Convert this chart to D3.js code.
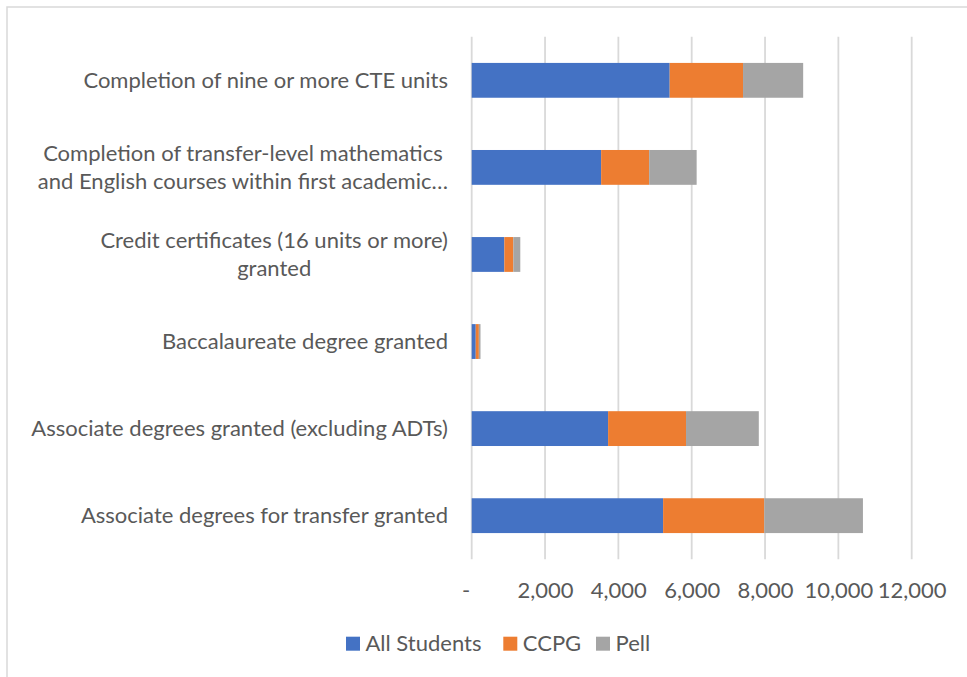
<!DOCTYPE html>
<html>
<head>
<meta charset="utf-8">
<script src="https://cdn.jsdelivr.net/npm/d3@7"></script>
<style>
  html, body { margin: 0; padding: 0; background: #ffffff; }
  svg { display: block; }
  text { font-family: Lato, "Open Sans", sans-serif; fill: #595959; }
</style>
</head>
<body>
<div id="chart"></div>
<script>
// Data
var categories = [
    "Completion of nine or more CTE units",
    "Completion of transfer-level mathematics and English courses within first academic year",
    "Credit certificates (16 units or more) granted",
    "Baccalaureate degree granted",
    "Associate degrees granted (excluding ADTs)",
    "Associate degrees for transfer granted"
];
var categoryLines = [
    ["Completion of nine or more CTE units"],
    ["Completion of transfer-level mathematics", "and English courses within first academic\u2026"],
    ["Credit certificates (16 units or more)", "granted"],
    ["Baccalaureate degree granted"],
    ["Associate degrees granted (excluding ADTs)"],
    ["Associate degrees for transfer granted"]
];
var seriesNames = ["All Students", "CCPG", "Pell"];
var allStudents = [5400, 3530, 890, 110, 3720, 5220];
var ccpg = [2000, 1310, 245, 85, 2125, 2760];
var pell = [1640, 1295, 190, 45, 1985, 2690];
var xTicks = [0, 2000, 4000, 6000, 8000, 10000, 12000];

function chartOutcomes_Draw(ele) {
    ele = "#" + ele;
    var w = 967, h = 677;

    var rows = categories.map(function(c, i) {
        return { cat: c, "All Students": allStudents[i], "CCPG": ccpg[i], "Pell": pell[i] };
    });

    var x = d3.scaleLinear().domain([0, 12000]).range([471.7, 911.7]);
    var y = d3.scaleBand().domain(categories).range([36.8, 559.2])
        .paddingInner(0.6).paddingOuter(0.3);

    var svg = d3.select(ele)
        .append("svg")
        .attr("width", w)
        .attr("height", h);

    // Chart border
    svg.append("rect")
        .attr("x", 7).attr("y", 7)
        .attr("width", 1000).attr("height", 700)
        .attr("fill", "#ffffff")
        .attr("stroke", "#d9d9d9")
        .attr("stroke-width", 1.5);

    // Gridlines
    svg.selectAll(".grid")
        .data(xTicks)
        .enter()
        .append("line")
        .attr("class", "grid")
        .attr("x1", function(d) { return x(d); })
        .attr("x2", function(d) { return x(d); })
        .attr("y1", 36.8)
        .attr("y2", 559.2)
        .attr("stroke", "#d9d9d9")
        .attr("stroke-width", 1.8);

    // Bars
    var stack = d3.stack().keys(seriesNames)(rows);
    var color = d3.scaleOrdinal().domain(seriesNames).range(["#4472c4", "#ed7d31", "#a5a5a5"]);

    svg.selectAll(".series")
        .data(stack)
        .enter()
        .append("g")
        .attr("class", "series")
        .attr("fill", function(d) { return color(d.key); })
        .selectAll("rect")
        .data(function(d) { return d; })
        .enter()
        .append("rect")
        .attr("x", function(d) { return x(d[0]); })
        .attr("y", function(d) { return y(d.data.cat); })
        .attr("width", function(d) { return x(d[1]) - x(d[0]); })
        .attr("height", y.bandwidth());

    // X axis labels
    var xAxis = d3.axisBottom(x)
        .tickValues(xTicks)
        .tickSize(0)
        .tickPadding(0)
        .tickFormat(function(d) { return d === 0 ? "-" : d3.format(",")(d); });

    var gx = svg.append("g")
        .attr("transform", "translate(0,582)")
        .call(xAxis);
    gx.select(".domain").remove();
    gx.selectAll("text")
        .attr("font-family", "Lato, sans-serif")
        .attr("font-size", "22px")
        .attr("fill", "#595959")
        .attr("dy", "0.71em")
        .attr("dx", function(d) { return d === 0 ? -6 : 0; });

    // Category labels
    var labels = svg.selectAll(".catlabel")
        .data(categoryLines)
        .enter()
        .append("text")
        .attr("class", "catlabel")
        .attr("font-size", "22px")
        .attr("text-anchor", "middle");

    labels.each(function(lines, i) {
        var t = d3.select(this);
        var cy = y(categories[i]) + y.bandwidth() / 2;
        var lh = 28.4;
        lines.forEach(function(line, j) {
            t.append("tspan")
                .attr("y", cy + (j - (lines.length - 1) / 2) * lh)
                .attr("dy", "0.35em")
                .text(line);
        });
        var maxW = 0;
        t.selectAll("tspan").each(function() { maxW = Math.max(maxW, this.getComputedTextLength()); });
        t.selectAll("tspan").attr("x", 448 - maxW / 2);
    });

    // Legend
    var legendX = [346, 503.3, 596];
    var legend = svg.selectAll(".legend")
        .data(seriesNames)
        .enter()
        .append("g")
        .attr("class", "legend")
        .attr("transform", function(d, i) { return "translate(" + legendX[i] + ",636.7)"; });

    legend.append("rect")
        .attr("width", 14)
        .attr("height", 14)
        .attr("fill", function(d) { return color(d); });

    legend.append("text")
        .attr("x", 19.5)
        .attr("y", 7)
        .attr("dy", "0.35em")
        .attr("font-size", "22px")
        .text(function(d) { return d; });
}

chartOutcomes_Draw("chart");
</script>
</body>
</html>
